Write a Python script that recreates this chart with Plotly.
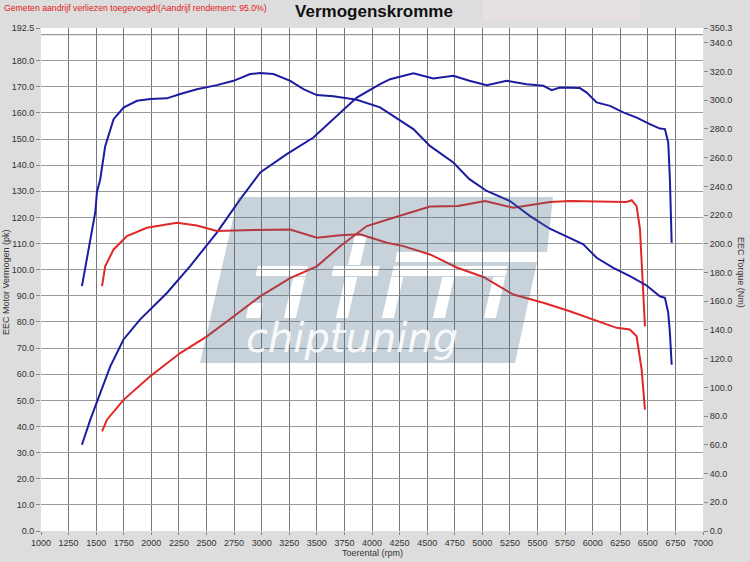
import plotly.graph_objects as go

# ---------------- data ----------------
rpm_tuned_torque = [1371, 1447, 1492, 1507, 1537, 1582, 1658, 1748, 1870, 1991, 2141, 2262, 2413, 2594,
                    2745, 2896, 2987, 3107, 3259, 3379, 3500, 3650, 3862, 4073, 4164, 4375, 4525, 4737,
                    4883, 5040, 5251, 5433, 5612, 5793, 5915, 6036, 6187, 6338, 6489, 6609, 6655, 6685,
                    6700, 6716]
torque_tuned = [170.5, 203, 222, 236, 245, 268, 286.8, 294.9, 299.6, 300.8, 301.3, 304.3, 307.7, 310.5,
                313.5, 318.2, 318.9, 318.2, 313.5, 307.7, 303.6, 302.7, 300.3, 295, 290.3, 279.9, 268.2,
                256.6, 245, 236.8, 229.8, 219.3, 210.5, 204.3, 199.6, 190.3, 183.3, 177.5, 171, 163.5,
                162.4, 151.9, 138, 115.8]

rpm_tuned_power = [1371, 1447, 1537, 1628, 1748, 1899, 2141, 2352, 2594, 2805, 2987, 3228, 3469, 3650,
                   3862, 4073, 4164, 4375, 4556, 4737, 4883, 5040, 5221, 5402, 5553, 5629, 5703, 5884,
                   5946, 6036, 6157, 6277, 6399, 6518, 6609, 6655, 6685, 6700, 6716]
power_tuned = [33.0, 42.6, 52.8, 63.0, 73.3, 81.0, 91.1, 101.4, 114.2, 126.9, 137.2, 144.2, 150.6, 157.6,
               165.9, 171.0, 172.9, 175.2, 173.2, 174.2, 172.3, 170.6, 172.3, 171.0, 170.4, 168.7, 169.7,
               169.5, 167.8, 164.0, 162.7, 160.2, 158.2, 155.7, 154.0, 153.8, 148.7, 134.6, 110.3]

rpm_stock_torque = [1553, 1582, 1658, 1779, 1960, 2232, 2413, 2594, 2926, 3258, 3500, 3711, 3892, 4134,
                    4284, 4526, 4768, 5009, 5281, 5553, 5793, 6005, 6217, 6337, 6398, 6444, 6474]
torque_stock = [170.5, 184.4, 196.1, 205.4, 211.2, 214.7, 212.8, 208.9, 209.6, 210.0, 204.3, 205.9, 206.6,
                200.8, 198.4, 192.6, 183.5, 176.9, 164.7, 158.9, 153.0, 147.2, 141.5, 140.3, 135.6, 112.4,
                84.5]

rpm_stock_power = [1553, 1598, 1748, 1990, 2262, 2504, 2745, 2986, 3258, 3500, 3711, 3953, 4194, 4526,
                   4780, 5024, 5281, 5612, 5793, 6096, 6308, 6354, 6398, 6429, 6453, 6474]
power_stock = [38.1, 42.6, 50.2, 59.2, 68.1, 74.5, 82.1, 89.8, 96.8, 101.3, 109.0, 116.7, 119.9, 124.2,
               124.4, 126.3, 123.7, 125.9, 126.3, 125.9, 125.9, 126.6, 124.3, 115.4, 96.2, 78.3]

x_ticks = list(range(1000, 7001, 250))
left_ticks = [float(v) for v in range(0, 181, 10)] + [192.5]
right_ticks = [float(v) for v in range(0, 341, 20)] + [350.3]

# ---------------- styling ----------------
BLUE = "#1c1ca0"
RED = "#e02828"
FONT = "Liberation Sans"
W, H = 750, 562
ML, MR, MT, MB = 41, 47, 28, 31
PW, PH = W - ML - MR, H - MT - MB


def pxp(x, y):
    """pixel -> paper coords"""
    return (x - ML) / PW, (H - MB - y) / PH


def path(points):
    s = ""
    for i, (x, y) in enumerate(points):
        px, py = pxp(x, y)
        s += ("M" if i == 0 else "L") + f"{px:.4f},{py:.4f} "
    return s + "Z "


SLANT = 0.23


def sl(x, y):
    return (x + SLANT * (300 - y), y)


def hole(x0, y0, x1, y1):
    # counter-clockwise on screen -> cut-out with nonzero fill rule
    return path([sl(x0, y0), sl(x0, y1), sl(x1, y1), sl(x1, y0)])


fig = go.Figure()
fig.add_trace(go.Scatter(x=rpm_tuned_torque, y=torque_tuned, yaxis="y2", mode="lines",
                         line=dict(color=BLUE, width=2), showlegend=False))
fig.add_trace(go.Scatter(x=rpm_tuned_power, y=power_tuned, mode="lines",
                         line=dict(color=BLUE, width=2), showlegend=False))
fig.add_trace(go.Scatter(x=rpm_stock_torque, y=torque_stock, yaxis="y2", mode="lines",
                         line=dict(color=RED, width=2), showlegend=False))
fig.add_trace(go.Scatter(x=rpm_stock_power, y=power_stock, mode="lines",
                         line=dict(color=RED, width=2), showlegend=False))

tickfont = dict(family=FONT, size=9, color="#333")

# logo (semi transparent overlay, "atm" cut out)
outer = [(238, 197), (553, 197), (547, 252), (397, 252), (395, 262), (537, 262), (515, 363), (200, 363)]
logo_path = path(outer)
for r in [
    (250, 266, 300, 276),   # a: top bar
    (288, 277, 300, 318),   # a: stem
    (250, 303, 264, 318),   # a: dot
    (340, 236, 352, 265),   # t: upper stem
    (326, 266, 372, 276),   # t: cross bar
    (340, 277, 352, 318),   # t: lower stem
    (386, 266, 500, 276),   # m: top bar
    (386, 277, 398, 318),   # m: left leg
    (437, 277, 449, 318),   # m: middle leg
    (488, 277, 500, 318),   # m: right leg
]:
    logo_path += hole(*r)

shapes = [
    dict(type="line", xref="paper", yref="y", x0=0, x1=1, y0=190, y1=190,
         line=dict(color="#999", width=1.2), layer="below"),
    dict(type="rect", xref="paper", yref="paper",
         x0=pxp(483, 0)[0], x1=pxp(640, 0)[0], y0=pxp(0, 21)[1], y1=pxp(0, 0)[1],
         fillcolor="#e6e0e3", line=dict(width=0), layer="below"),
    dict(type="path", xref="paper", yref="paper", path=logo_path,
         fillcolor="rgba(72,105,132,0.30)", line=dict(width=0), layer="above"),
]

annotations = [
    dict(text="Gemeten aandrijf verliezen toegevoegd!(Aandrijf rendement: 95.0%)",
         xref="paper", yref="paper", x=pxp(2, 0)[0], y=pxp(0, 8)[1], xanchor="left", yanchor="middle",
         showarrow=False, font=dict(family=FONT, size=8.7, color="#e02020")),
    dict(text="EEC Motor Vermogen (pk)", xref="paper", yref="paper",
         x=pxp(6, 0)[0], y=pxp(0, 282)[1], textangle=-90, showarrow=False,
         xanchor="center", yanchor="middle", font=dict(family=FONT, size=9, color="#333")),
    dict(text="EEC Torque (Nm)", xref="paper", yref="paper",
         x=pxp(741, 0)[0], y=pxp(0, 272)[1], textangle=90, showarrow=False,
         xanchor="center", yanchor="middle", font=dict(family=FONT, size=9, color="#333")),
    dict(text="Toerental (rpm)", xref="paper", yref="paper",
         x=pxp(372, 0)[0], y=pxp(0, 553)[1], showarrow=False,
         xanchor="center", yanchor="middle", font=dict(family=FONT, size=9, color="#333")),
    dict(text="<i>chiptuning</i>", xref="paper", yref="paper",
         x=pxp(352, 0)[0], y=pxp(0, 338)[1], showarrow=False,
         xanchor="center", yanchor="middle",
         font=dict(family="DejaVu Sans", size=40, color="rgba(255,255,255,0.9)")),
]

fig.update_layout(
    width=W, height=H,
    margin=dict(l=ML, r=MR, t=MT, b=MB, pad=0),
    paper_bgcolor="#dddddd", plot_bgcolor="#ffffff",
    title=dict(text="<b>Vermogenskromme</b>", x=374 / W, y=1 - 11 / H, xanchor="center", yanchor="middle",
               font=dict(family=FONT, size=17, color="#111")),
    xaxis=dict(range=[1000, 7000], tickvals=x_ticks, ticktext=[str(v) for v in x_ticks],
               showgrid=True, gridcolor="#777", gridwidth=1, zeroline=False, showline=False,
               ticks="outside", ticklen=3, tickcolor="#888", tickfont=tickfont),
    yaxis=dict(range=[0, 192.5], tickvals=left_ticks, ticktext=[f"{v:.1f}" for v in left_ticks],
               showgrid=True, gridcolor="#999", gridwidth=1.2, zeroline=False, showline=False,
               ticks="outside", ticklen=4, tickcolor="#888", tickfont=tickfont),
    yaxis2=dict(range=[0, 350.3], tickvals=right_ticks, ticktext=[f"{v:.1f}" for v in right_ticks],
                overlaying="y", side="right", showgrid=False, zeroline=False, showline=False,
                ticks="outside", ticklen=4, tickcolor="#888", tickfont=tickfont),
    shapes=shapes,
    annotations=annotations,
)

fig.write_html("out.html", config={"displayModeBar": False},
               post_script="document.body.style.margin='0px';")
